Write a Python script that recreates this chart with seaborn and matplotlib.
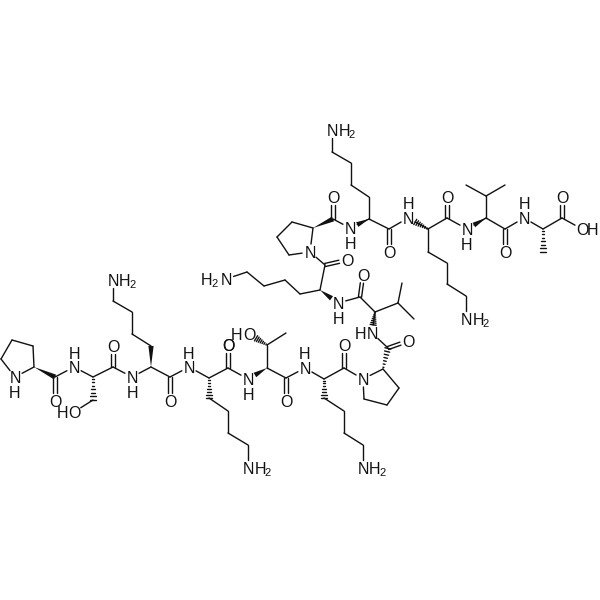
import numpy as np
import pandas as pd
import seaborn as sns
import matplotlib
matplotlib.use('Agg')
import matplotlib.pyplot as plt

# atoms (pixels)
atom_names = ['N1', 'a1', 'b1', 'g1', 'd1', 'c1', 'o1',
              'N2', 'a2', 'b2', 'o2h', 'c2', 'o2',
              'N3', 'a3', 'b3', 'g3', 'd3', 'e3', 'z3', 'c3', 'o3',
              'N4', 'a4', 'b4', 'g4', 'd4', 'e4', 'z4', 'c4', 'o4',
              'N5', 'a5', 'b5', 'm5', 'o5h', 'c5', 'o5',
              'N6', 'a6', 'b6', 'g6', 'd6', 'e6', 'z6', 'c6', 'o6',
              'N7', 'a7', 'b7', 'g7', 'd7', 'c7', 'o7',
              'N8', 'a8', 'b8', 'm8a', 'm8b', 'c8', 'o8',
              'N9', 'a9', 'b9', 'g9', 'd9', 'e9', 'z9', 'c9', 'o9',
              'N10', 'a10', 'b10', 'g10', 'd10', 'c10', 'o10',
              'N11', 'a11', 'b11', 'g11', 'd11', 'e11', 'z11', 'c11', 'o11',
              'N12', 'a12', 'b12', 'g12', 'd12', 'e12', 'z12', 'c12', 'o12',
              'N13', 'a13', 'b13', 'm13a', 'm13b', 'c13', 'o13',
              'N14', 'a14', 'm14', 'c14', 'o14', 'oh14']
atom_x = [15, 34, 33, 12, 1, 55, 55,
          74, 93, 93, 74, 113, 113,
          132, 151, 151, 132, 132, 113, 113, 170, 170,
          189, 209, 209, 228, 228, 248, 248, 228, 228,
          248, 267, 267, 286, 249, 286, 286,
          305, 324, 324, 344, 344, 363, 363, 344, 344,
          363, 383, 399, 387, 364, 388, 408,
          372, 375, 398, 402, 414, 360, 363,
          338, 320, 300, 285, 264, 247, 226, 325, 347,
          310, 313, 292, 277, 289, 333, 333,
          350, 369, 369, 351, 351, 332, 332, 389, 389,
          408, 428, 428, 447, 447, 466, 466, 447, 447,
          467, 486, 486, 466, 505, 505, 505,
          524, 543, 543, 562, 562, 582]
atom_y = [377, 367, 346, 340, 359, 377, 401,
          367, 377, 400, 412, 367, 346,
          377, 367, 346, 334, 312, 301, 280, 377, 401,
          367, 378, 398, 411, 433, 445, 468, 368, 345,
          379, 368, 345, 333, 334, 378, 401,
          368, 379, 398, 411, 433, 445, 468, 368, 345,
          379, 369, 388, 405, 399, 348, 341,
          333, 312, 303, 283, 319, 297, 275,
          303, 290, 294, 280, 286, 272, 279, 265, 260,
          252, 228, 222, 237, 255, 219, 197,
          228, 219, 197, 185, 163, 152, 130, 229, 252,
          218, 229, 252, 263, 284, 296, 319, 218, 197,
          229, 218, 196, 185, 185, 229, 252,
          218, 229, 252, 218, 197, 229]

single_bonds = [('N1', 'a1'), ('a1', 'b1'), ('b1', 'g1'), ('g1', 'd1'), ('d1', 'N1'),
                ('c1', 'N2'), ('N2', 'a2'), ('a2', 'c2'), ('b2', 'o2h'), ('c2', 'N3'),
                ('N3', 'a3'), ('b3', 'g3'), ('g3', 'd3'), ('d3', 'e3'), ('e3', 'z3'),
                ('a3', 'c3'), ('c3', 'N4'), ('N4', 'a4'), ('b4', 'g4'), ('g4', 'd4'),
                ('d4', 'e4'), ('e4', 'z4'), ('a4', 'c4'), ('c4', 'N5'), ('a5', 'b5'),
                ('b5', 'm5'), ('a5', 'c5'), ('c5', 'N6'), ('N6', 'a6'), ('b6', 'g6'),
                ('g6', 'd6'), ('d6', 'e6'), ('e6', 'z6'), ('a6', 'c6'), ('c6', 'N7'),
                ('N7', 'a7'), ('a7', 'b7'), ('b7', 'g7'), ('g7', 'd7'), ('d7', 'N7'),
                ('c7', 'N8'), ('N8', 'a8'), ('a8', 'b8'), ('b8', 'm8a'), ('b8', 'm8b'),
                ('a8', 'c8'), ('c8', 'N9'), ('a9', 'b9'), ('b9', 'g9'), ('g9', 'd9'),
                ('d9', 'e9'), ('e9', 'z9'), ('a9', 'c9'), ('c9', 'N10'), ('N10', 'a10'),
                ('a10', 'b10'), ('b10', 'g10'), ('g10', 'd10'), ('d10', 'N10'),
                ('c10', 'N11'), ('N11', 'a11'), ('a11', 'b11'), ('b11', 'g11'),
                ('g11', 'd11'), ('d11', 'e11'), ('e11', 'z11'), ('a11', 'c11'),
                ('c11', 'N12'), ('N12', 'a12'), ('a12', 'b12'), ('b12', 'g12'),
                ('g12', 'd12'), ('d12', 'e12'), ('e12', 'z12'), ('a12', 'c12'),
                ('c12', 'N13'), ('N13', 'a13'), ('a13', 'b13'), ('b13', 'm13a'),
                ('b13', 'm13b'), ('a13', 'c13'), ('c13', 'N14'), ('N14', 'a14'),
                ('a14', 'c14'), ('c14', 'oh14')]
double_bonds = [('c1', 'o1'), ('c2', 'o2'), ('c3', 'o3'), ('c4', 'o4'), ('c5', 'o5'),
                ('c6', 'o6'), ('c7', 'o7'), ('c8', 'o8'), ('c9', 'o9'), ('c10', 'o10'),
                ('c11', 'o11'), ('c12', 'o12'), ('c13', 'o13'), ('c14', 'o14')]
wedge_bonds = [('a1', 'c1'), ('a3', 'b3'), ('a5', 'N5'), ('a9', 'N9'), ('a10', 'c10'),
               ('a11', 'N11'), ('a13', 'N13')]
hash_bonds = [('a2', 'b2'), ('a4', 'b4'), ('b5', 'o5h'), ('a6', 'b6'), ('a7', 'c7'),
              ('a8', 'N8'), ('a12', 'N12'), ('a14', 'm14')]

# text on the picture: atom letters
label_text = ['N', 'H', 'O', 'N', 'H', 'H', 'O', 'O', 'N', 'H',
              'N', 'H', '2', 'O', 'N', 'H', 'O', 'N', 'H',
              'N', 'H', '2', 'O', 'H', 'O', 'O', 'N', 'H',
              'N', 'H', '2', 'O', 'N',
              'O', 'H', 'N', 'O', 'N', 'H',
              'H', '2', 'N', 'O', 'N', 'O', 'N', 'H',
              'N', 'H', '2', 'O', 'N', 'H',
              'N', 'H', '2', 'O', 'N', 'H', 'O', 'N', 'H', 'O', 'O', 'H']
label_x = [15, 15, 55, 74, 74, 63, 74, 113, 132, 132,
           113, 125, 133, 170, 189, 189, 228, 248, 248,
           248, 260, 268, 228, 237, 249, 286, 305, 305,
           363, 375, 383, 344, 363,
           408, 360, 372, 363, 338, 338,
           207, 215, 226, 347, 310, 333, 350, 350,
           332, 344, 352, 389, 408, 408,
           466, 478, 486, 447, 467, 467, 505, 524, 524, 562, 582, 593]
label_y = [377, 392, 401, 367, 353, 412, 412, 346, 377, 392,
           280, 280, 284, 401, 367, 353, 345, 379, 394,
           468, 468, 472, 345, 334, 334, 401, 368, 353,
           468, 468, 472, 345, 379,
           341, 333, 333, 275, 303, 318,
           279, 283, 279, 260, 252, 197, 228, 243,
           130, 130, 134, 252, 218, 203,
           319, 319, 323, 197, 229, 244, 252, 218, 203, 197, 229, 229]

pos = {n: np.array([x, y], dtype=float) for n, x, y in zip(atom_names, atom_x, atom_y)}


def trimmed(a, b):
    # stop the bond short of a letter
    p, q = pos[a].copy(), pos[b].copy()
    u = (q - p) / np.linalg.norm(q - p)
    if a[0] in 'Noz':
        p = p + u * 8
    if b[0] in 'Noz':
        q = q - u * 8
    return p, q


rows = []
k = 0
for a, b in single_bonds:
    p, q = trimmed(a, b)
    rows += [(k, p[0], p[1]), (k, q[0], q[1])]
    k += 1
for a, b in double_bonds:
    p, q = trimmed(a, b)
    u = (q - p) / np.linalg.norm(q - p)
    n = np.array([-u[1], u[0]])
    for s in (-1.6, 1.6):
        rows += [(k, p[0] + n[0] * s, p[1] + n[1] * s), (k, q[0] + n[0] * s, q[1] + n[1] * s)]
        k += 1
for a, b in hash_bonds:
    p, q = trimmed(a, b)
    u = (q - p) / np.linalg.norm(q - p)
    n = np.array([-u[1], u[0]])
    for t in np.arange(0.08, 1.01, 0.15):
        c = p + (q - p) * t
        w = 2.8 * t + 0.3
        rows += [(k, c[0] - n[0] * w, c[1] - n[1] * w), (k, c[0] + n[0] * w, c[1] + n[1] * w)]
        k += 1
bonds = pd.DataFrame(rows, columns=['bond', 'x', 'y'])

sns.set_style('white')
plt.rcParams['font.family'] = ['Liberation Sans', 'DejaVu Sans']
fig = plt.figure(figsize=(6, 6), dpi=100)
ax = fig.add_axes([0, 0, 1, 1])
sns.lineplot(data=bonds, x='x', y='y', units='bond', estimator=None, sort=False,
             color='#111111', linewidth=1.0, legend=False, ax=ax)

for a, b in wedge_bonds:
    p, q = trimmed(a, b)
    u = (q - p) / np.linalg.norm(q - p)
    n = np.array([-u[1], u[0]])
    ax.fill([p[0], q[0] + n[0] * 2.6, q[0] - n[0] * 2.6],
            [p[1], q[1] + n[1] * 2.6, q[1] - n[1] * 2.6],
            color='#111111', lw=0)

for t, x, y in zip(label_text, label_x, label_y):
    ax.text(x, y, t, ha='center', va='center_baseline', color='#111111',
            fontsize=8 if t == '2' else 11.5)

ax.set_xlim(0, 600)
ax.set_ylim(600, 0)
ax.axis('off')
fig.savefig('out.png', dpi=100, facecolor='white')
